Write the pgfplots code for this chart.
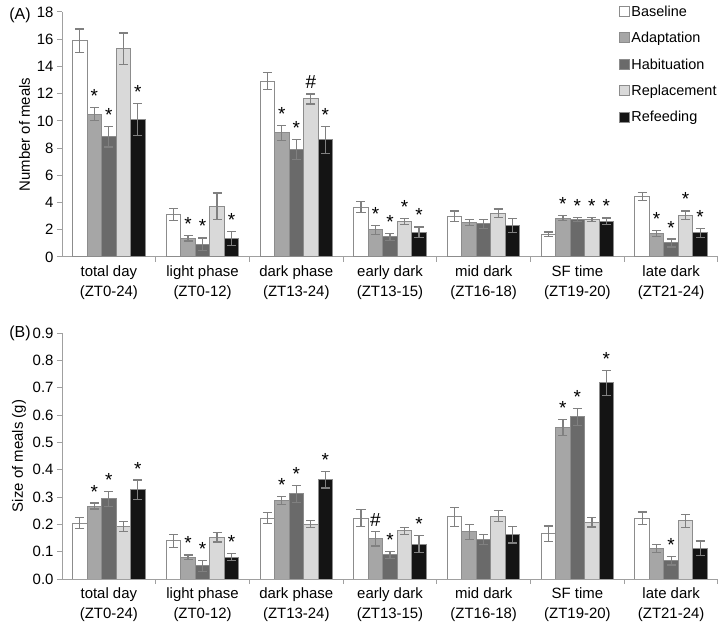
\documentclass[border=0pt]{standalone}
\usepackage{fontspec}
\setmainfont{Liberation Sans}
\usepackage{pgfplots}
\usepackage{pgfplotstable}
\pgfplotsset{compat=1.18}
\definecolor{axgray}{RGB}{160,160,160}
\definecolor{edgegray}{RGB}{140,140,140}
\definecolor{errgray}{RGB}{128,128,128}
\definecolor{cBase}{RGB}{255,255,255}
\definecolor{cAdapt}{RGB}{166,166,166}
\definecolor{cHab}{RGB}{106,106,106}
\definecolor{cRep}{RGB}{217,217,217}
\definecolor{cRef}{RGB}{20,20,20}

% Panel A: number of meals
\pgfplotstableread{
x b be a ae as h he hs r re rs f fe fs
0 15.90 0.85 10.50 0.50 * 8.84 0.76 * 15.30 1.15 {} 10.10 1.16 *
1 3.13 0.42 1.37 0.20 * 0.93 0.47 * 3.72 0.98 {} 1.37 0.50 *
2 12.93 0.64 9.11 0.53 * 7.91 0.73 * 11.61 0.37 \# 8.60 0.98 *
3 3.67 0.40 2.00 0.34 * 1.47 0.25 * 2.62 0.22 * 1.81 0.40 *
4 3.00 0.38 2.52 0.22 {} 2.44 0.34 {} 3.23 0.30 {} 2.32 0.51 {}
5 1.66 0.17 2.86 0.16 * 2.76 0.15 * 2.74 0.16 * 2.64 0.23 *
6 4.43 0.28 1.71 0.22 * 1.03 0.29 * 3.06 0.32 * 1.78 0.32 *
}\dataA

% Panel B: size of meals (g)
\pgfplotstableread{
x b be a ae as h he hs r re rs f fe fs
0 0.204 0.020 0.267 0.011 * 0.293 0.028 * 0.191 0.018 {} 0.327 0.035 *
1 0.140 0.024 0.080 0.008 * 0.048 0.021 * 0.152 0.017 {} 0.080 0.012 *
2 0.223 0.021 0.288 0.015 * 0.311 0.030 * 0.200 0.013 {} 0.363 0.030 *
3 0.223 0.032 0.148 0.027 \# 0.088 0.013 * 0.176 0.013 {} 0.128 0.030 *
4 0.228 0.035 0.172 0.028 {} 0.144 0.018 {} 0.230 0.020 {} 0.162 0.030 {}
5 0.165 0.029 0.554 0.029 * 0.593 0.030 * 0.207 0.017 {} 0.718 0.046 *
6 0.222 0.023 0.111 0.015 {} 0.067 0.016 * 0.213 0.024 {} 0.113 0.026 {}
}\dataB

\pgfplotsset{
  mybars/.style={
    scale only axis, width=656bp,
    ybar, bar width=14.5bp,
    xmin=-0.5, xmax=6.5, ymin=0,
    axis x line*=bottom, axis y line*=left,
    axis line style={-, draw=axgray, line width=1bp},
    xtick={0,...,6},
    xticklabels={{total day\\(ZT0-24)},{light phase\\(ZT0-12)},{dark phase\\(ZT13-24)},{early dark\\(ZT13-15)},{mid dark\\(ZT16-18)},{SF time\\(ZT19-20)},{late dark\\(ZT21-24)}},
    xticklabel style={align=center, font=\fontsize{15}{20}\selectfont},
    yticklabel style={font=\fontsize{15}{18}\selectfont},
    /pgf/number format/assume math mode=true,
    major x tick style={draw=none},
    minor xtick={0.5,1.5,2.5,3.5,4.5,5.5,6.5},
    tick align=outside,
    tick style={draw=axgray, line width=1bp},
    major tick length=5bp, minor tick length=5bp,
    ylabel style={font=\fontsize{15}{18}\selectfont},
  },
  errs/.style={
    error bars/.cd, y dir=both, y explicit,
    error bar style={errgray, line width=1.2bp},
    error mark options={errgray, line width=1.2bp, mark size=4.5bp, rotate=90},
  },
  sB/.style={fill=cBase, draw=edgegray, line width=1bp, bar shift=-29bp},
  sA/.style={fill=cAdapt, draw=edgegray, line width=1bp, bar shift=-14.5bp},
  sH/.style={fill=cHab, draw=edgegray, line width=1bp, bar shift=0bp},
  sR/.style={fill=cRep, draw=edgegray, line width=1bp, bar shift=14.5bp},
  sF/.style={fill=cRef, draw=edgegray, line width=1bp, bar shift=29bp},
  sig/.style={draw=none, fill=none, nodes near coords, point meta=explicit symbolic,
    every node near coord/.append style={font=\fontsize{19}{19}\selectfont, anchor=base, inner sep=0pt, text=black, yshift=5bp}},
  legsq/.style={legend image code/.code={\draw[fill=#1,draw=edgegray,line width=0.8bp] (0bp,-4.5bp) rectangle (10bp,5.5bp); \path (10.5bp,0bp);}},
}

\begin{document}
\begin{tikzpicture}
\useasboundingbox (0,0) rectangle (720bp,625bp);

% ---------- Panel A ----------
\begin{axis}[mybars,
  at={(62bp,368bp)}, anchor=south west,
  height=245bp, ymax=18, ytick={0,2,...,18},
  ylabel={Number of meals},
  legend entries={Baseline,Adaptation,Habituation,Replacement,Refeeding},
  legend style={draw=none, fill=none, at={(0.849,1.03)}, anchor=north west,
    font=\fontsize{14.5}{17}\selectfont, row sep=12bp, inner sep=0pt,
    nodes={inner sep=1.2bp}},
  legend cell align=left,
]
\addlegendimage{legsq=cBase}
\addlegendimage{legsq=cAdapt}
\addlegendimage{legsq=cHab}
\addlegendimage{legsq=cRep}
\addlegendimage{legsq=cRef}
\addplot[sB, errs] table[x=x, y=b, y error=be] {\dataA};
\addplot[sA, errs] table[x=x, y=a, y error=ae] {\dataA};
\addplot[sH, errs] table[x=x, y=h, y error=he] {\dataA};
\addplot[sR, errs] table[x=x, y=r, y error=re] {\dataA};
\addplot[sF, errs] table[x=x, y=f, y error=fe] {\dataA};
% significance markers above the error bars
\addplot[sA, sig] table[x=x, y expr=\thisrow{a}+\thisrow{ae}, meta=as] {\dataA};
\addplot[sH, sig] table[x=x, y expr=\thisrow{h}+\thisrow{he}, meta=hs] {\dataA};
\addplot[sR, sig] table[x=x, y expr=\thisrow{r}+\thisrow{re}, meta=rs] {\dataA};
\addplot[sF, sig] table[x=x, y expr=\thisrow{f}+\thisrow{fe}, meta=fs] {\dataA};
\end{axis}

% ---------- Panel B ----------
\begin{axis}[mybars,
  at={(62bp,46bp)}, anchor=south west,
  height=246bp, ymax=0.9, ytick={0,0.1,0.2,0.3,0.4,0.5,0.6,0.7,0.8,0.9},
  yticklabel style={/pgf/number format/.cd, fixed, fixed zerofill, precision=1},
  ylabel={Size of meals (g)},
]
\addplot[sB, errs] table[x=x, y=b, y error=be] {\dataB};
\addplot[sA, errs] table[x=x, y=a, y error=ae] {\dataB};
\addplot[sH, errs] table[x=x, y=h, y error=he] {\dataB};
\addplot[sR, errs] table[x=x, y=r, y error=re] {\dataB};
\addplot[sF, errs] table[x=x, y=f, y error=fe] {\dataB};
\addplot[sA, sig] table[x=x, y expr=\thisrow{a}+\thisrow{ae}, meta=as] {\dataB};
\addplot[sH, sig] table[x=x, y expr=\thisrow{h}+\thisrow{he}, meta=hs] {\dataB};
\addplot[sR, sig] table[x=x, y expr=\thisrow{r}+\thisrow{re}, meta=rs] {\dataB};
\addplot[sF, sig] table[x=x, y expr=\thisrow{f}+\thisrow{fe}, meta=fs] {\dataB};
\end{axis}

\node[font=\fontsize{16}{18}\selectfont] at (20bp,610bp) {(A)};
\node[font=\fontsize{16}{18}\selectfont] at (20bp,292bp) {(B)};
\end{tikzpicture}
\end{document}
